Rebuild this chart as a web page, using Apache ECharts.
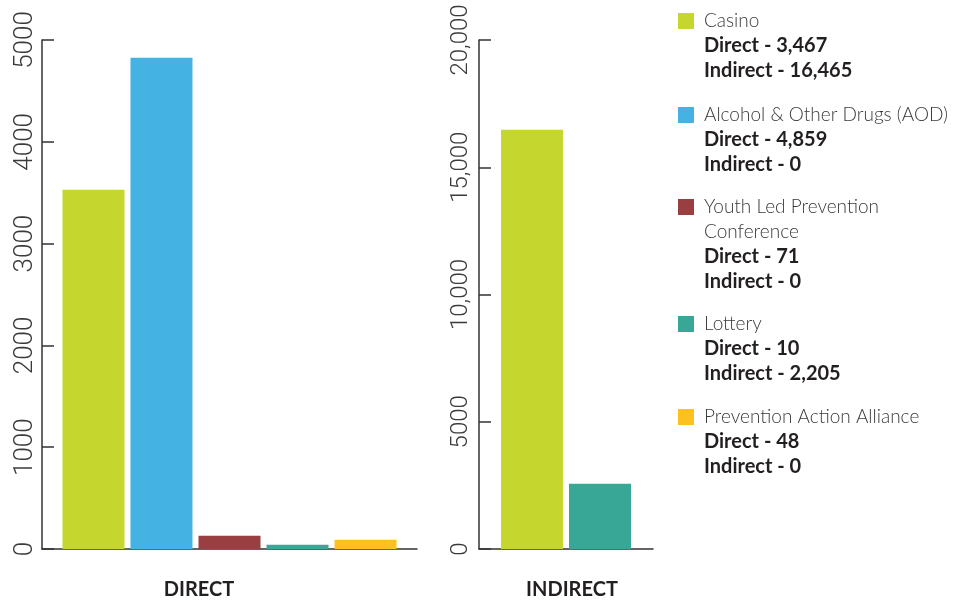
<!DOCTYPE html>
<html><head><meta charset="utf-8">
<script src="https://cdn.jsdelivr.net/npm/echarts@6/dist/echarts.min.js"></script>
<style>html,body{margin:0;padding:0;background:#fff}#c{width:957px;height:604px}</style>
</head><body><div id="c"></div>
<script>
// ---- data ----
const programs = ['Casino', 'Alcohol & Other Drugs (AOD)', 'Youth Led Prevention Conference', 'Lottery', 'Prevention Action Alliance'];
const legendNames = ['Casino', 'Alcohol & Other Drugs (AOD)', 'Youth Led Prevention\nConference', 'Lottery', 'Prevention Action Alliance'];
const colors = ['#c5d72e', '#44b3e3', '#9a3f41', '#39a796', '#fdc11f'];
// bar heights as drawn in the picture
const directValues = [3530, 4825, 130, 42, 90];
const indirectValues = [16470, 0, 0, 2565, 0];
// figures printed in the legend
const directReported = ['3,467', '4,859', '71', '10', '48'];
const indirectReported = ['16,465', '0', '0', '2,205', '0'];
const panelNames = ['DIRECT', 'INDIRECT'];
const directTickLabels = ['0', '1000', '2000', '3000', '4000', '5000'];
const indirectTickLabels = ['0', '5000', '10,000', '15,000', '20,000'];

// ---- layout / style ----
const AX = '#333333';
const LINE_H = 25;
const legendIconTops = [13, 107, 199, 316, 409];

const chart = echarts.init(document.getElementById('c'), null, {renderer: 'canvas'});

function yAxisCfg(gridIndex, max, interval, labels, fontSize, margin) {
  return {
    type: 'value', gridIndex, min: 0, max, interval,
    axisLine: {show: true, lineStyle: {color: AX, width: 1.5}},
    axisTick: {show: true, inside: true, length: 12, lineStyle: {color: AX, width: 1.5}},
    splitLine: {show: false},
    axisLabel: {
      rotate: 90, margin, fontSize, fontFamily: 'Roboto', fontWeight: 300, color: '#3a3a3a',
      formatter: v => labels[Math.round(v / interval)]
    }
  };
}
function xAxisCfg(gridIndex, name, pad) {
  return {
    type: 'category', gridIndex, data: [name],
    axisLine: {show: true, lineStyle: {color: AX, width: 1.5}},
    axisTick: {show: false},
    axisLabel: {margin: 31, fontSize: 20, fontWeight: 'bold', fontFamily: 'Lato', color: '#231f20', padding: pad}
  };
}

const series = [];
programs.forEach((p, i) => {
  series.push({type: 'bar', name: p, xAxisIndex: 0, yAxisIndex: 0, data: [directValues[i]],
    barWidth: 62, barGap: '9.7%', itemStyle: {color: colors[i]}});
});
programs.forEach((p, i) => {
  if (indirectValues[i] > 0) {
    series.push({type: 'bar', name: p, xAxisIndex: 1, yAxisIndex: 1, data: [indirectValues[i]],
      barWidth: 62, barGap: '9.7%', itemStyle: {color: colors[i]}});
  }
});

const legends = programs.map((p, i) => {
  const nameLines = legendNames[i].split('\n');
  const L = nameLines.length + 2;
  const P = (L - 1) * LINE_H;
  return {
    data: [p], left: 678, top: legendIconTops[i] + 8 - (2 * L - 1) * LINE_H / 2,
    orient: 'vertical', icon: 'rect', itemWidth: 16, itemHeight: 16, padding: 0, itemGap: 0,
    selectedMode: false,
    formatter: () => nameLines.map(s => '{n|' + s + '}').join('\n') +
      '\n{b|Direct - ' + directReported[i] + '}\n{b|Indirect - ' + indirectReported[i] + '}',
    textStyle: {
      padding: [P, 0, 0, 5], backgroundColor: 'rgba(255,255,255,0)', lineHeight: LINE_H,
      rich: {
        n: {fontFamily: 'Lato', fontWeight: 300, fontSize: 19, color: '#3a3a3a', lineHeight: LINE_H},
        b: {fontFamily: 'Lato', fontWeight: 'bold', fontSize: 20, color: '#231f20', lineHeight: LINE_H}
      }
    }
  };
});

chart.setOption({
  animation: false,
  backgroundColor: '#ffffff',
  grid: [
    {left: 42, top: 40, width: 375, height: 509, outerBoundsMode: 'none', containLabel: false},
    {left: 479, top: 40, width: 174, height: 509, outerBoundsMode: 'none', containLabel: false}
  ],
  xAxis: [xAxisCfg(0, panelNames[0], [0, 61, 0, 0]), xAxisCfg(1, panelNames[1], [0, 0, 0, 12])],
  yAxis: [
    yAxisCfg(0, 5000, 1000, directTickLabels, 26, 4),
    yAxisCfg(1, 20000, 5000, indirectTickLabels, 24, 6)
  ],
  legend: legends,
  series
});
</script></body></html>
